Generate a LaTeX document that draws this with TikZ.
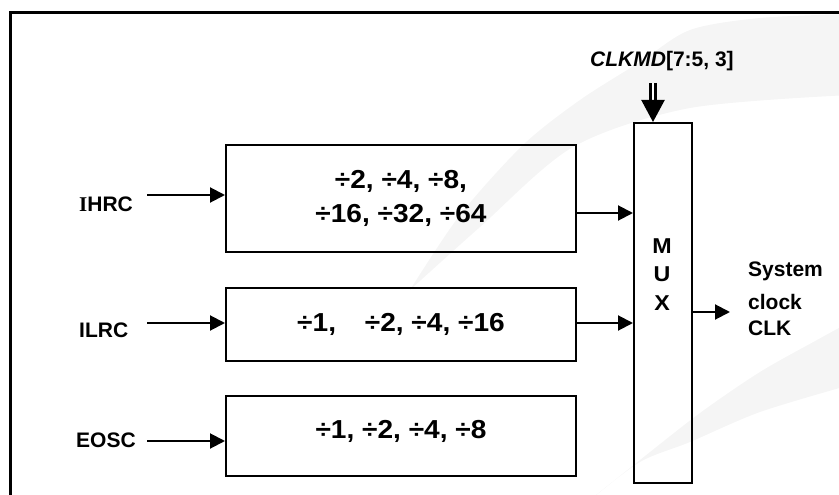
\documentclass[tikz,border=0pt]{standalone}
\usepackage{fontspec}
\setmainfont{Liberation Sans}
\newfontfamily\serifface{Liberation Serif}
\newfontfamily\wideface{Liberation Sans}[FakeStretch=1.08]
\usetikzlibrary{arrows.meta,calc}

\begin{document}
\begin{tikzpicture}[x=1pt,y=-1pt,
  every node/.style={inner sep=0pt, font=\bfseries},
  frame/.style={draw, line width=3pt},
  divbox/.style={draw, line width=2pt, minimum width=350pt, align=center,
    font=\wideface\fontsize{26}{34}\selectfont\bfseries},
  muxbox/.style={draw, line width=2pt, minimum width=58pt, minimum height=360pt},
  sig/.style={font=\fontsize{21}{26}\selectfont\bfseries},
  muxlbl/.style={align=center, font=\wideface\fontsize{21.5}{28.5}\selectfont\bfseries},
  flow/.style={line width=2pt, -{Triangle[length=15pt,width=15pt]}},
  selbus/.style={line width=2.2pt, double, double distance=2.8pt,
    -{Triangle[length=22pt,width=23pt]}},
  swoosh/.style={fill=black!4},
]
\useasboundingbox (0,0) rectangle (839,495);
\clip (0,0) rectangle (839,495);

% faint background swooshes
\fill[swoosh] plot[smooth] coordinates {(850,14) (760,18) (690,30) (640,62) (580,100) (523,145) (460,215) (410,290)}
  -- plot[smooth] coordinates {(410,290) (480,227) (573,147) (690,108) (850,95)} -- cycle;
\fill[swoosh] plot[smooth] coordinates {(850,322) (817,340) (760,372) (700,413) (640,460) (590,500)}
  -- plot[smooth] coordinates {(590,500) (640,462) (690,442) (760,412) (850,385)} -- cycle;

% outer frame
\draw[frame] (10,12.5) rectangle (860,520);

% divider blocks
\node[divbox, minimum height=107pt] (div1) at (401,198.5) {÷2, ÷4, ÷8,\\÷16, ÷32, ÷64};
\node[divbox, minimum height=73pt] (div2) at (401,324.5) {÷1,\hspace{21pt} ÷2, ÷4, ÷16};
\node[divbox, minimum height=80pt] (div3) at (401,436) {\raisebox{5pt}[\height][\depth]{÷1, ÷2, ÷4, ÷8}};

% multiplexer
\node[muxbox] (mux) at (663,303) {};
\node[muxlbl] (muxtxt) at (662,274.5) {M\\U\\X};

% clock sources
\node[sig, anchor=base west] (ihrc) at (79,211) {{\serifface\bfseries I}HRC};
\node[sig, anchor=base west] (ilrc) at (79,337) {ILRC};
\node[sig, anchor=base west] (eosc) at (76,447) {EOSC};

% select and output labels
\node[sig, anchor=base west] (clkmd) at (590,67) {\textit{CLKMD}[7:5, 3]};
\node[sig, anchor=north west, align=left] (sysclk) at (748,262) {System\\[7pt]clock\\CLK};

% connections
\coordinate (ihrcin) at (147,195);
\coordinate (ilrcin) at (147,323);
\coordinate (eoscin) at (147,441);
\draw[flow] (ihrcin) -- (ihrcin -| div1.west);
\draw[flow] (ilrcin) -- (ilrcin -| div2.west);
\draw[flow] (eoscin) -- (eoscin -| div3.west);

\coordinate (m1) at (600,213);
\coordinate (m2) at (600,323);
\draw[flow] (m1 -| div1.east) -- (m1 -| mux.west);
\draw[flow] (m2 -| div2.east) -- (m2 -| mux.west);

\coordinate (clkout) at (730,312);
\draw[flow] (clkout -| mux.east) -- (clkout);

\coordinate (sel) at (653,83);
\draw[selbus] (sel) -- (sel |- mux.north);
\end{tikzpicture}
\end{document}
